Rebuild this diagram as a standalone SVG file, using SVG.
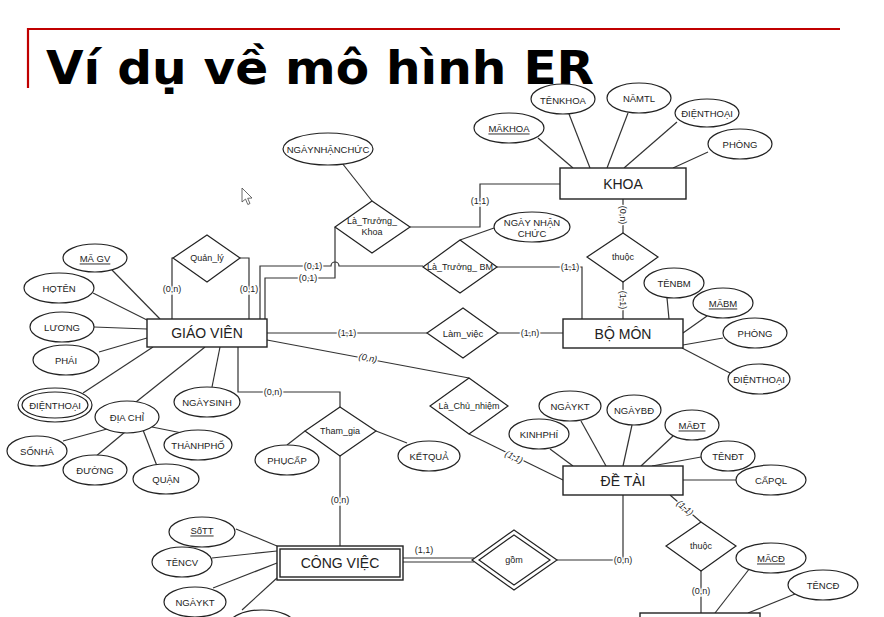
<svg xmlns="http://www.w3.org/2000/svg" width="884" height="617" viewBox="0 0 884 617">
<style>
.ln{stroke:#333;stroke-width:1.2;fill:none}
.ent{fill:#fff;stroke:#222;stroke-width:1.4}
.shp{fill:#fff;stroke:#222;stroke-width:1.2}
.t{font-family:"Liberation Sans",Arial,sans-serif;fill:#222;text-anchor:middle;dominant-baseline:central}
.ta{font-size:9.5px}
.te{font-size:14px}
.tr{font-size:9px}
.tc{font-size:9px;stroke:#fff;stroke-width:3;paint-order:stroke;stroke-linejoin:round}
.u{text-decoration:underline}
</style>
<rect width="884" height="617" fill="#fff"/>
<g id="title">
<path d="M28,88 V29 H840" fill="none" stroke="#c00000" stroke-width="2.2"/>
<text x="46" y="84" font-family="DejaVu Sans,Verdana,sans-serif" font-weight="bold" font-size="47" textLength="548" lengthAdjust="spacingAndGlyphs" fill="#000">Ví dụ về mô hình ER</text>
</g>
<g id="cursor">
<path d="M242,188 L242,202 L245.5,199 L247.8,204.5 L250,203.5 L247.7,198.3 L252,198 Z" fill="#fff" stroke="#444" stroke-width="0.8"/>
</g>
<g id="connectors">
<line class="ln" x1="538" y1="138" x2="573" y2="168"/>
<line class="ln" x1="569" y1="114" x2="590" y2="168"/>
<line class="ln" x1="628" y1="113" x2="607" y2="168"/>
<line class="ln" x1="677" y1="122" x2="624" y2="168"/>
<line class="ln" x1="708" y1="152" x2="673" y2="168"/>
<path class="ln" d="M560,184 H480 V227 H410"/>
<line class="ln" x1="342" y1="163" x2="372" y2="201"/>
<path class="ln" d="M260,319 V266 H331 A4,4 0 0 1 339,266 H423"/>
<path class="ln" d="M265,319 V278 H335 V227"/>
<path class="ln" d="M173,258 H172 V319"/>
<path class="ln" d="M240,258 H249 V319"/>
<path class="ln" d="M497,267 H582 V319"/>
<line class="ln" x1="494" y1="228" x2="460" y2="240"/>
<line class="ln" x1="267" y1="333" x2="427" y2="333"/>
<line class="ln" x1="498" y1="333" x2="563" y2="333"/>
<line class="ln" x1="623" y1="199" x2="623" y2="233"/>
<line class="ln" x1="623" y1="282" x2="623" y2="319"/>
<line class="ln" x1="667" y1="298" x2="669" y2="319"/>
<line class="ln" x1="707" y1="316" x2="683" y2="333"/>
<line class="ln" x1="723" y1="338" x2="683" y2="345"/>
<line class="ln" x1="730" y1="373" x2="682" y2="348"/>
<line class="ln" x1="112" y1="270" x2="160" y2="319"/>
<line class="ln" x1="93" y1="293" x2="147" y2="320"/>
<line class="ln" x1="94" y1="327" x2="147" y2="329"/>
<line class="ln" x1="99" y1="352" x2="147" y2="338"/>
<line class="ln" x1="83" y1="393" x2="153" y2="347"/>
<line class="ln" x1="136" y1="402" x2="205" y2="347"/>
<line class="ln" x1="212" y1="387" x2="220" y2="347"/>
<line class="ln" x1="63" y1="441" x2="107" y2="429"/>
<line class="ln" x1="95" y1="457" x2="125" y2="432"/>
<line class="ln" x1="157" y1="466" x2="143" y2="430"/>
<line class="ln" x1="182" y1="433" x2="152" y2="427"/>
<path class="ln" d="M238,347 V392 H340 V407"/>
<line class="ln" x1="305" y1="431" x2="287" y2="445"/>
<line class="ln" x1="376" y1="431" x2="407" y2="443"/>
<line class="ln" x1="340" y1="456" x2="340" y2="546"/>
<line class="ln" x1="267" y1="340" x2="469" y2="378"/>
<line class="ln" x1="469" y1="434" x2="563" y2="480"/>
<line class="ln" x1="550" y1="449" x2="573" y2="466"/>
<line class="ln" x1="581" y1="421" x2="606" y2="466"/>
<line class="ln" x1="632" y1="425" x2="623" y2="466"/>
<line class="ln" x1="673" y1="436" x2="641" y2="466"/>
<line class="ln" x1="701" y1="457" x2="652" y2="466"/>
<line class="ln" x1="736" y1="480" x2="683" y2="480"/>
<path class="ln" d="M623,495 V560 H557"/>
<line class="ln" x1="670" y1="495" x2="701" y2="522"/>
<line class="ln" x1="701" y1="571" x2="701" y2="613"/>
<line class="ln" x1="750" y1="568" x2="715" y2="613"/>
<line class="ln" x1="795" y1="594" x2="748" y2="613"/>
<line class="ln" x1="236" y1="529" x2="277" y2="546"/>
<line class="ln" x1="212" y1="558" x2="277" y2="551"/>
<line class="ln" x1="213" y1="588" x2="277" y2="563"/>
<line class="ln" x1="242" y1="610" x2="277" y2="578"/>
<line class="ln" x1="403" y1="558" x2="474" y2="558"/>
<line class="ln" x1="403" y1="562" x2="474" y2="562"/>
<text class="t tc" x="480" y="201">(1,1)</text>
<text class="t tc" x="172" y="289">(0,n)</text>
<text class="t tc" x="249" y="289">(0,1)</text>
<text class="t tc" x="313" y="266">(0,1)</text>
<text class="t tc" x="308" y="278">(0,1)</text>
<text class="t tc" x="570" y="267">(1,1)</text>
<text class="t tc" x="347" y="333">(1,1)</text>
<text class="t tc" x="530" y="333">(1,n)</text>
<text class="t tc" transform="translate(623,215) rotate(90)">(0,n)</text>
<text class="t tc" transform="translate(623,300) rotate(90)">(1,1)</text>
<text class="t tc" x="273" y="392">(0,n)</text>
<text class="t tc" font-style="italic" transform="translate(368,358) rotate(10.6)">(0,n)</text>
<text class="t tc" font-style="italic" transform="translate(514,457) rotate(26)">(1,1)</text>
<text class="t tc" x="340" y="500">(0,n)</text>
<text class="t tc" x="424" y="550">(1,1)</text>
<text class="t tc" x="623" y="560">(0,n)</text>
<text class="t tc" font-style="italic" transform="translate(685,508) rotate(41)">(1,1)</text>
<text class="t tc" x="701" y="591">(0,n)</text>
</g>
<g id="KHOA"><rect class="ent" x="560" y="168" width="126" height="31"/><text class="t te" x="623" y="184">KHOA</text></g>
<g id="MAKHOA"><ellipse class="shp" cx="509" cy="128" rx="35" ry="15"/><text class="t ta u" x="509" y="128">MÃKHOA</text></g>
<g id="TENKHOA"><ellipse class="shp" cx="563" cy="99" rx="32" ry="15"/><text class="t ta" x="563" y="100">TÊNKHOA</text></g>
<g id="NAMTL"><ellipse class="shp" cx="639" cy="98" rx="32" ry="15"/><text class="t ta" x="639" y="98">NĂMTL</text></g>
<g id="DIENTHOAI_KHOA"><ellipse class="shp" cx="707" cy="113" rx="32" ry="14"/><text class="t ta" x="707" y="113">ĐIỆNTHOẠI</text></g>
<g id="PHONG_KHOA"><ellipse class="shp" cx="740" cy="144" rx="32" ry="15"/><text class="t ta" x="740" y="144">PHÒNG</text></g>
<g id="NGAYNHANCHUC1"><ellipse class="shp" cx="328" cy="149" rx="45" ry="16"/><text class="t ta" x="328" y="149">NGÀYNHẬNCHỨC</text></g>
<g id="La_Truong_Khoa"><polygon class="shp" points="372,201 410,227 372,253 335,227"/><text class="t tr" x="372" y="221">Là_Trưởng_</text><text class="t tr" x="372" y="232">Khoa</text></g>
<g id="NGAYNHANCHUC2"><ellipse class="shp" cx="532" cy="227" rx="38" ry="15"/><text class="t ta" x="532" y="222">NGÀY NHẬN</text><text class="t ta" x="532" y="233">CHỨC</text></g>
<g id="La_Truong_BM"><polygon class="shp" points="460,240 497,267 460,293 423,267"/><text class="t tr" x="460" y="267">Là_Trưởng_ BM</text></g>
<g id="Quan_ly"><polygon class="shp" points="207,235 240,258 207,282 173,258"/><text class="t tr" x="207" y="258">Quản_lý</text></g>
<g id="thuoc1"><polygon class="shp" points="623,233 658,257 623,282 587,257"/><text class="t tr" x="623" y="257">thuộc</text></g>
<g id="GIAOVIEN"><rect class="ent" x="147" y="319" width="120" height="28"/><text class="t te" x="207" y="333">GIÁO VIÊN</text></g>
<g id="MAGV"><ellipse class="shp" cx="95" cy="258" rx="32" ry="14"/><text class="t ta u" x="95" y="258">MÃ GV</text></g>
<g id="HOTEN"><ellipse class="shp" cx="59" cy="288" rx="35" ry="15"/><text class="t ta" x="59" y="288">HỌTÊN</text></g>
<g id="LUONG"><ellipse class="shp" cx="62" cy="327" rx="32" ry="15"/><text class="t ta" x="62" y="327">LƯƠNG</text></g>
<g id="PHAI"><ellipse class="shp" cx="66" cy="360" rx="33" ry="15"/><text class="t ta" x="66" y="360">PHÁI</text></g>
<g id="DIENTHOAI_GV"><ellipse class="shp" cx="55" cy="405" rx="37" ry="17"/><ellipse class="shp" cx="55" cy="405" rx="33" ry="13"/><text class="t ta" x="55" y="405">ĐIỆNTHOẠI</text></g>
<g id="DIACHI"><ellipse class="shp" cx="127" cy="417" rx="32" ry="16"/><text class="t ta" x="127" y="417">ĐỊA CHỈ</text></g>
<g id="NGAYSINH"><ellipse class="shp" cx="207" cy="402" rx="33" ry="15"/><text class="t ta" x="207" y="402">NGÀYSINH</text></g>
<g id="SONHA"><ellipse class="shp" cx="37" cy="451" rx="30" ry="15"/><text class="t ta" x="37" y="451">SỐNHÀ</text></g>
<g id="DUONG"><ellipse class="shp" cx="95" cy="470" rx="32" ry="15"/><text class="t ta" x="95" y="470">ĐƯỜNG</text></g>
<g id="QUAN"><ellipse class="shp" cx="166" cy="479" rx="33" ry="15"/><text class="t ta" x="166" y="479">QUẬN</text></g>
<g id="THANHPHO"><ellipse class="shp" cx="198" cy="445" rx="34" ry="15"/><text class="t ta" x="198" y="445">THÀNHPHỐ</text></g>
<g id="Lam_viec"><polygon class="shp" points="463,308 498,333 463,358 427,333"/><text class="t ta" x="463" y="333">Làm_việc</text></g>
<g id="BOMON"><rect class="ent" x="563" y="319" width="120" height="29"/><text class="t te" x="623" y="334">BỘ MÔN</text></g>
<g id="TENBM"><ellipse class="shp" cx="674" cy="283" rx="30" ry="15"/><text class="t ta" x="674" y="283">TÊNBM</text></g>
<g id="MABM"><ellipse class="shp" cx="723" cy="303" rx="30" ry="15"/><text class="t ta u" x="723" y="303">MÃBM</text></g>
<g id="PHONG_BM"><ellipse class="shp" cx="755" cy="333" rx="32" ry="15"/><text class="t ta" x="755" y="333">PHÒNG</text></g>
<g id="DIENTHOAI_BM"><ellipse class="shp" cx="759" cy="379" rx="31" ry="15"/><text class="t ta" x="759" y="379">ĐIỆNTHOẠI</text></g>
<g id="Tham_gia"><polygon class="shp" points="340,407 376,431 340,456 305,431"/><text class="t tr" x="340" y="431">Tham_gia</text></g>
<g id="PHUCAP"><ellipse class="shp" cx="287" cy="460" rx="32" ry="15"/><text class="t ta" x="287" y="460">PHỤCẤP</text></g>
<g id="KETQUA"><ellipse class="shp" cx="429" cy="456" rx="31" ry="15"/><text class="t ta" x="429" y="456">KẾTQUẢ</text></g>
<g id="La_Chu_nhiem"><polygon class="shp" points="469,378 508,406 469,434 430,406"/><text class="t tr" x="469" y="406">Là_Chủ_nhiệm</text></g>
<g id="DETAI"><rect class="ent" x="563" y="466" width="120" height="29"/><text class="t te" x="623" y="481">ĐỀ TÀI</text></g>
<g id="KINHPHI"><ellipse class="shp" cx="539" cy="434" rx="30" ry="15"/><text class="t ta" x="539" y="434">KINHPHÍ</text></g>
<g id="NGAYKT_DT"><ellipse class="shp" cx="570" cy="406" rx="31" ry="15"/><text class="t ta" x="570" y="406">NGÀYKT</text></g>
<g id="NGAYBD"><ellipse class="shp" cx="634" cy="410" rx="27" ry="15"/><text class="t ta" x="634" y="410">NGÀYBĐ</text></g>
<g id="MADT"><ellipse class="shp" cx="692" cy="425" rx="27" ry="15"/><text class="t ta u" x="692" y="425">MÃĐT</text></g>
<g id="TENDT"><ellipse class="shp" cx="728" cy="456" rx="27" ry="15"/><text class="t ta" x="728" y="456">TÊNĐT</text></g>
<g id="CAPQL"><ellipse class="shp" cx="771" cy="480" rx="35" ry="15"/><text class="t ta" x="771" y="480">CẤPQL</text></g>
<g id="thuoc2"><polygon class="shp" points="701,522 736,546 701,571 666,546"/><text class="t tr" x="701" y="546">thuộc</text></g>
<g id="CHUYENDE"><rect class="ent" x="640" y="613" width="120" height="29"/></g>
<g id="MACD"><ellipse class="shp" cx="771" cy="558" rx="35" ry="15"/><text class="t ta u" x="771" y="558">MÃCĐ</text></g>
<g id="TENCD"><ellipse class="shp" cx="823" cy="585" rx="35" ry="15"/><text class="t ta" x="823" y="585">TÊNCĐ</text></g>
<g id="CONGVIEC"><rect class="ent" x="277" y="546" width="126" height="34"/><rect class="ent" x="280" y="549" width="120" height="28"/><text class="t te" x="340" y="563">CÔNG VIỆC</text></g>
<g id="SOTT"><ellipse class="shp" cx="202" cy="532" rx="33" ry="15"/><text class="t ta u" x="202" y="530">SốTT</text></g>
<g id="TENCV"><ellipse class="shp" cx="182" cy="562" rx="30" ry="15"/><text class="t ta" x="182" y="562">TÊNCV</text></g>
<g id="NGAYKT_CV"><ellipse class="shp" cx="195" cy="602" rx="31" ry="15"/><text class="t ta" x="195" y="602">NGÀYKT</text></g>
<g id="ATTR_CV4"><ellipse class="shp" cx="262" cy="625" rx="33" ry="15"/></g>
<g id="gom"><polygon class="shp" points="514,530 557,560 514,590 472,560"/><polygon class="shp" points="514,535 550,560 514,585 479,560"/><text class="t tr" x="514" y="560">gồm</text></g>
</svg>
